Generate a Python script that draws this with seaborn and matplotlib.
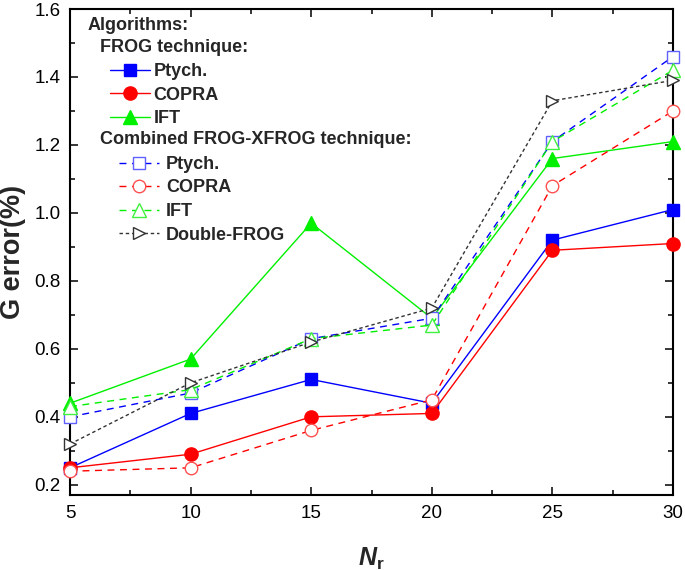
import matplotlib
matplotlib.use("Agg")
import matplotlib.pyplot as plt
import numpy as np
import pandas as pd
import seaborn as sns
from matplotlib import ticker
from matplotlib.lines import Line2D

# Nr values (x axis)
n_r = [5, 10, 15, 20, 25, 30]

# FROG technique
frog_ptych = [0.25, 0.41, 0.51, 0.44, 0.92, 1.01]
frog_copra = [0.25, 0.29, 0.40, 0.41, 0.89, 0.91]
frog_ift = [0.44, 0.57, 0.97, 0.69, 1.16, 1.21]

# Combined FROG-XFROG technique
comb_ptych = [0.40, 0.47, 0.63, 0.69, 1.21, 1.46]
comb_copra = [0.24, 0.25, 0.36, 0.45, 1.08, 1.30]
comb_ift = [0.43, 0.48, 0.63, 0.67, 1.21, 1.42]
double_frog = [0.32, 0.50, 0.62, 0.72, 1.33, 1.39]

labels_frog = ["Ptych.", "COPRA", "IFT"]
labels_comb = ["Ptych.", "COPRA", "IFT", "Double-FROG"]

sns.set_theme(style="ticks")
plt.rcParams["font.family"] = ["Liberation Sans", "DejaVu Sans"]
plt.rcParams["mathtext.fontset"] = "custom"
plt.rcParams["mathtext.it"] = "Liberation Sans:italic:bold"
plt.rcParams["mathtext.rm"] = "Liberation Sans:bold"

fig = plt.figure(figsize=(6.85, 5.7), dpi=100)
ax = fig.add_axes([70 / 685, 1 - 495 / 570, 603 / 685, 486 / 570])

blue, red, green = "#0000ff", "#ff0000", "#00f000"
styles_frog = [
    dict(color=blue, marker="s", ms=8, mfc=blue, mec=blue, ls="-", lw=1.0),
    dict(color=red, marker="o", ms=9.5, mfc=red, mec=red, ls="-", lw=1.0),
    dict(color=green, marker="^", ms=10, mfc=green, mec=green, ls="-", lw=1.0),
]
styles_comb = [
    dict(color=blue, marker="s", ms=8, mfc="white", mec="#6060ff", ls=(0, (5, 4)), lw=1.0),
    dict(color=red, marker="o", ms=9, mfc="white", mec="#ff5050", ls=(0, (5, 4)), lw=1.0),
    dict(color=green, marker="^", ms=10, mfc="white", mec="#40f040", ls=(0, (5, 4)), lw=1.0),
    dict(color="#333333", marker=">", ms=9, mfc="white", mec="#333333", ls=(0, (2.5, 2)), lw=1.0),
]

for vals, st in zip([frog_ptych, frog_copra, frog_ift], styles_frog):
    sns.lineplot(x=n_r, y=vals, ax=ax, markeredgewidth=1.0, clip_on=False, zorder=3, **st)
for vals, st in zip([comb_ptych, comb_copra, comb_ift, double_frog], styles_comb):
    sns.lineplot(x=n_r, y=vals, ax=ax, markeredgewidth=1.0, clip_on=False, zorder=3, **st)

ax.set_xlim(5, 30)
ax.set_ylim(0.17, 1.6)
ax.xaxis.set_major_locator(ticker.MultipleLocator(5))
ax.xaxis.set_minor_locator(ticker.MultipleLocator(2.5))
ax.yaxis.set_major_locator(ticker.MultipleLocator(0.2))
ax.yaxis.set_minor_locator(ticker.MultipleLocator(0.1))
ax.yaxis.set_major_formatter(ticker.FormatStrFormatter("%.1f"))
ax.tick_params(axis="both", which="both", direction="in", top=True, right=True, colors="black")
ax.tick_params(axis="both", which="major", length=6, width=1.1, labelsize=13.5, pad=7)
ax.tick_params(axis="both", which="minor", length=3.5, width=1.1)
for sp in ax.spines.values():
    sp.set_linewidth(1.5)
    sp.set_color("black")

ax.set_ylabel("G error(%)", fontsize=19.5, fontweight="bold", labelpad=6)
ax.set_xlabel(r"$N_\mathrm{r}$", fontsize=18, labelpad=17)

# legend headers
leg_fs = 13
fig.text(88 / 685, 1 - 25 / 570, "Algorithms:", fontsize=leg_fs, fontweight="bold", va="center")
fig.text(100 / 685, 1 - 48 / 570, "FROG technique:", fontsize=leg_fs, fontweight="bold", va="center")
fig.text(100 / 685, 1 - 140 / 570, "Combined FROG-XFROG technique:", fontsize=leg_fs, fontweight="bold", va="center")

h_frog = [Line2D([], [], markeredgewidth=1.0, **st) for st in styles_frog]
h_comb = [Line2D([], [], markeredgewidth=1.0, **st) for st in styles_comb]
leg_kw = dict(frameon=False, borderpad=0, borderaxespad=0, handlelength=2.2,
              labelspacing=0.36, bbox_transform=fig.transFigure, loc="upper left",
              prop=dict(size=leg_fs, weight="bold"))
leg1 = ax.legend(h_frog, labels_frog, bbox_to_anchor=(110 / 685, 1 - 63 / 570),
                 handletextpad=0.2, **leg_kw)
ax.add_artist(leg1)
ax.legend(h_comb, labels_comb, bbox_to_anchor=(119 / 685, 1 - 156 / 570),
          handletextpad=0.4, **leg_kw)

fig.savefig("out.png", dpi=100)
